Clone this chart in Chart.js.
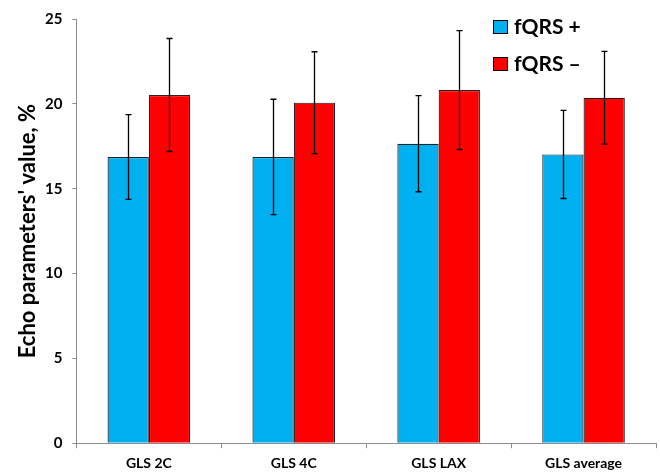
<!DOCTYPE html>
<html>
<head>
<meta charset="utf-8">
<script src="https://cdn.jsdelivr.net/npm/chart.js@4/dist/chart.umd.min.js"></script>
<style>
  html, body { margin: 0; padding: 0; background: #fff; }
  #wrap { width: 660px; height: 473px; }
</style>
</head>
<body>
<div id="wrap"><canvas id="myChart" width="660" height="473"></canvas></div>
<script>
// valeurs
const categories = ['GLS 2C', 'GLS 4C', 'GLS LAX', 'GLS average'];
const seriesNames = ['fQRS +', 'fQRS \u2013'];
const fqrsPlus = [16.87, 16.87, 17.65, 17.02];
const fqrsPlusErr = [2.5, 3.4, 2.83, 2.6];
const fqrsMinus = [20.52, 20.07, 20.81, 20.36];
const fqrsMinusErr = [3.33, 3.0, 3.5, 2.73];
const yTicks = [0, 5, 10, 15, 20, 25];
const yTitle = "Echo parameters' value, %";

const colors = ['#00B0F0', '#FF0000'];
const fontFam = 'Lato, "Open Sans", sans-serif';

// barres d'erreur
const errorBars = {
  id: 'errorBars',
  afterDatasetsDraw(chart) {
    const ctx = chart.ctx;
    const y = chart.scales.y;
    ctx.save();
    ctx.strokeStyle = '#000';
    ctx.lineWidth = 1.3;
    chart.data.datasets.forEach((ds, i) => {
      const meta = chart.getDatasetMeta(i);
      meta.data.forEach((bar, j) => {
        const v = ds.data[j];
        const e = ds.err[j];
        const top = y.getPixelForValue(v + e);
        const bot = y.getPixelForValue(v - e);
        const x = Math.round(bar.x) + 0.5;
        ctx.beginPath();
        ctx.moveTo(x, top);
        ctx.lineTo(x, bot);
        ctx.moveTo(x - 3, top);
        ctx.lineTo(x + 3, top);
        ctx.moveTo(x - 3, bot);
        ctx.lineTo(x + 3, bot);
        ctx.stroke();
      });
    });
    ctx.restore();
  }
};

// legende dans la zone du graphique + titre de l'axe y
const extras = {
  id: 'extras',
  afterDraw(chart) {
    const ctx = chart.ctx;
    const area = chart.chartArea;
    ctx.save();
    ctx.font = 'bold 21px ' + fontFam;
    ctx.textBaseline = 'middle';
    chart.data.datasets.forEach((ds, i) => {
      const x0 = 493, yc = 27 + i * 37;
      ctx.fillStyle = ds.backgroundColor;
      ctx.fillRect(x0, yc - 7, 15, 14);
      ctx.strokeStyle = '#000';
      ctx.lineWidth = 1;
      ctx.strokeRect(x0 + 0.5, yc - 6.5, 14, 13);
      ctx.fillStyle = '#000';
      ctx.fillText(ds.label, x0 + 21, yc);
    });
    ctx.translate(35, (area.top + area.bottom) / 2);
    ctx.rotate(-Math.PI / 2);
    ctx.font = 'bold 22px ' + fontFam;
    ctx.textAlign = 'center';
    ctx.textBaseline = 'alphabetic';
    ctx.fillText(yTitle, 0, 0);
    ctx.restore();
  }
};

const ctx = document.getElementById('myChart');
const myChart = new Chart(ctx, {
  type: 'bar',
  data: {
    labels: categories,
    datasets: [
      { label: seriesNames[0], data: fqrsPlus, err: fqrsPlusErr, backgroundColor: colors[0], borderColor: '#222', borderWidth: 1.2 },
      { label: seriesNames[1], data: fqrsMinus, err: fqrsMinusErr, backgroundColor: colors[1], borderColor: '#222', borderWidth: 1.2 }
    ]
  },
  options: {
    responsive: false,
    animation: false,
    layout: { padding: { top: 19, right: 4, left: 35, bottom: -6 } },
    plugins: {
      legend: { display: false },
      tooltip: { enabled: false }
    },
    datasets: { bar: { categoryPercentage: 0.57, barPercentage: 1 } },
    scales: {
      x: {
        grid: { display: true, drawOnChartArea: false, offset: true, color: '#8c8c8c', tickLength: 5 },
        border: { color: '#8c8c8c', width: 1 },
        ticks: { color: '#000', font: { family: fontFam, size: 14, weight: 'bold' }, padding: 7 }
      },
      y: {
        min: 0,
        max: 25,
        afterBuildTicks(axis) { axis.ticks = yTicks.map(v => ({ value: v })); },
        grid: { display: true, drawOnChartArea: false, color: '#8c8c8c', tickLength: 4 },
        border: { color: '#8c8c8c', width: 1 },
        ticks: { color: '#000', font: { family: fontFam, size: 15, weight: 'bold' }, padding: 10 }
      }
    }
  },
  plugins: [errorBars, extras]
});
</script>
</body>
</html>
